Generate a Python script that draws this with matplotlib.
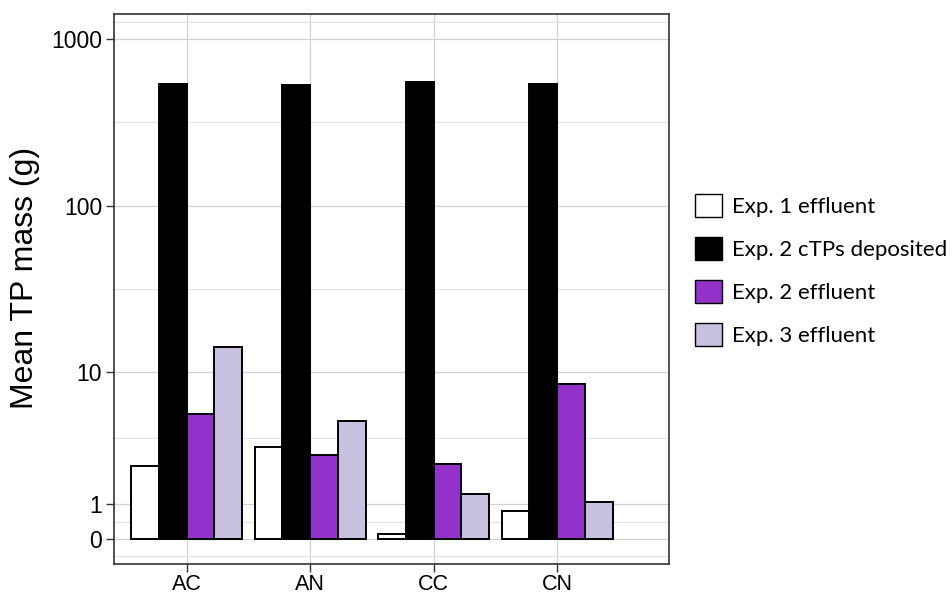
import numpy as np
import matplotlib
matplotlib.use("Agg")
import matplotlib.pyplot as plt
from matplotlib.patches import Patch
from matplotlib.ticker import FixedLocator, NullFormatter

# ---- data -------------------------------------------------------------
sites = ["AC", "AN", "CC", "CN"]
series_labels = ["Exp. 1 effluent", "Exp. 2 cTPs deposited",
                 "Exp. 2 effluent", "Exp. 3 effluent"]
exp1_effluent = [2.37, 3.26, 0.15, 0.80]
exp2_deposited = [537, 532, 551, 537]
exp2_effluent = [5.48, 2.87, 2.48, 8.42]
exp3_effluent = [14.2, 4.94, 1.33, 1.07]
y_ticks = [0, 1, 10, 100, 1000]

series = [exp1_effluent, exp2_deposited, exp2_effluent, exp3_effluent]
fills = ["#ffffff", "#000000", "#9331cb", "#c8c0df"]

# ---- pseudo-log scale: asinh(x / 2) / ln(10) --------------------------
LN10 = np.log(10.0)


def fwd(x):
    return np.arcsinh(np.asarray(x, dtype=float) / 2.0) / LN10


def inv(t):
    return 2.0 * np.sinh(np.asarray(t, dtype=float) * LN10)


plt.rcParams["font.family"] = ["Liberation Sans", "DejaVu Sans"]

fig = plt.figure(figsize=(9.52, 5.96), dpi=100)
ax = fig.add_axes([114 / 952, 32 / 596, 555 / 952, 550 / 596])

ax.set_yscale("function", functions=(fwd, inv))

n = len(series)
bar_w = 0.9 / n
x = np.arange(1, len(sites) + 1)
for j, (vals, col, lab) in enumerate(zip(series, fills, series_labels)):
    ax.bar(x + (j - (n - 1) / 2) * bar_w, vals, width=bar_w, color=col,
           edgecolor="black", linewidth=1.4, label=lab, zorder=3)

# limits: 5% expansion of the transformed 0..1000 range
t_lo, t_hi = float(fwd(0)), float(fwd(1000))
pad = 0.05 * (t_hi - t_lo)
ax.set_ylim(float(inv(t_lo - pad)), float(inv(t_hi + pad)))
ax.set_xlim(0.412, 4.906)

# major and minor (midpoint) breaks in transformed space
tb = fwd(y_ticks)
step = tb[1] - tb[0]
ext = np.concatenate([[tb[0] - step], tb, [tb[-1] + step]])
minor_t = (ext[:-1] + ext[1:]) / 2
ax.yaxis.set_major_locator(FixedLocator(y_ticks))
ax.set_yticklabels([str(v) for v in y_ticks])
ax.yaxis.set_minor_locator(FixedLocator(inv(minor_t)))
ax.yaxis.set_minor_formatter(NullFormatter())
ax.set_xticks(x)
ax.set_xticklabels(sites)

ax.set_axisbelow(True)
ax.grid(True, which="major", axis="both", color="#d2d2d2", linewidth=0.9)
ax.grid(True, which="minor", axis="y", color="#e4e4e4", linewidth=0.8)
ax.tick_params(axis="both", which="major", direction="out", length=5.5,
               width=1.0, color="#333333", labelcolor="black")
ax.tick_params(axis="y", which="major", labelsize=16.5, pad=3)
ax.tick_params(axis="x", which="major", labelsize=15.5, pad=1.5)
ax.tick_params(axis="y", which="minor", length=0)
for sp in ax.spines.values():
    sp.set_color("#333333")
    sp.set_linewidth(1.2)

ax.set_ylabel("Mean TP mass (g)", fontsize=23)
ax.yaxis.set_label_coords(-0.133, 0.52)

handles = [Patch(facecolor=c, edgecolor="black", linewidth=1.0) for c in fills]
fig.legend(handles, series_labels, loc="upper left",
           bbox_to_anchor=(695 / 952, 1 - 194 / 596), frameon=False,
           prop={"family": "Lato", "size": 16}, handlelength=1.22,
           handleheight=1.22, handletextpad=0.44, labelspacing=0.90,
           borderpad=0, borderaxespad=0)

fig.savefig("out.png", dpi=100)
